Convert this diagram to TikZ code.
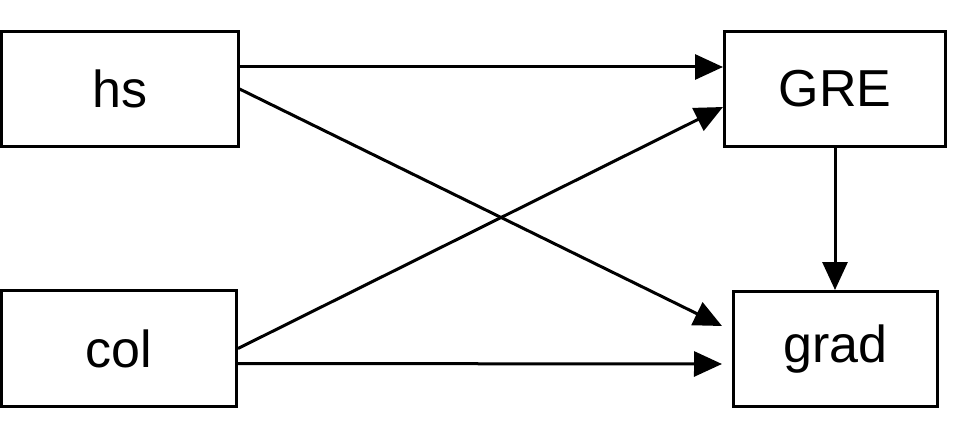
\documentclass[tikz,border=0pt]{standalone}
\usepackage{fontspec}
\setmainfont{Liberation Sans}
\usetikzlibrary{arrows.meta}
\begin{document}
\begin{tikzpicture}[x=1pt,y=-1pt,
  box/.style={draw=black,line width=3pt,fill=white,inner sep=0pt,font=\fontsize{52}{60}\selectfont},
  conn/.style={line width=3pt,-{Triangle[length=28pt,width=25pt]}}]
\useasboundingbox (0,0) rectangle (975,441);
\node[box,minimum width=236.5pt,minimum height=115pt] (hs) at (119.8,89) {hs};
\node[box,minimum width=221pt,minimum height=115pt] (gre) at (835,89) {GRE};
\node[box,minimum width=235pt,minimum height=116pt] (col) at (119,348.5) {col};
\node[box,minimum width=204pt,minimum height=115pt] (grad) at (835.5,349) {grad};
\draw[conn] ([yshift=22pt]hs.east) -- ([yshift=22pt]gre.west);
\draw[conn] (hs.east) -- ([xshift=-10pt,yshift=23pt]grad.west);
\draw[conn] (col.east) -- ([yshift=-18pt]gre.west);
\draw[conn] ([yshift=-15pt]col.east) -- ([xshift=-10pt,yshift=-15pt]grad.west);
\draw[conn] (gre.south) -- (gre.south |- grad.north);
\end{tikzpicture}
\end{document}
